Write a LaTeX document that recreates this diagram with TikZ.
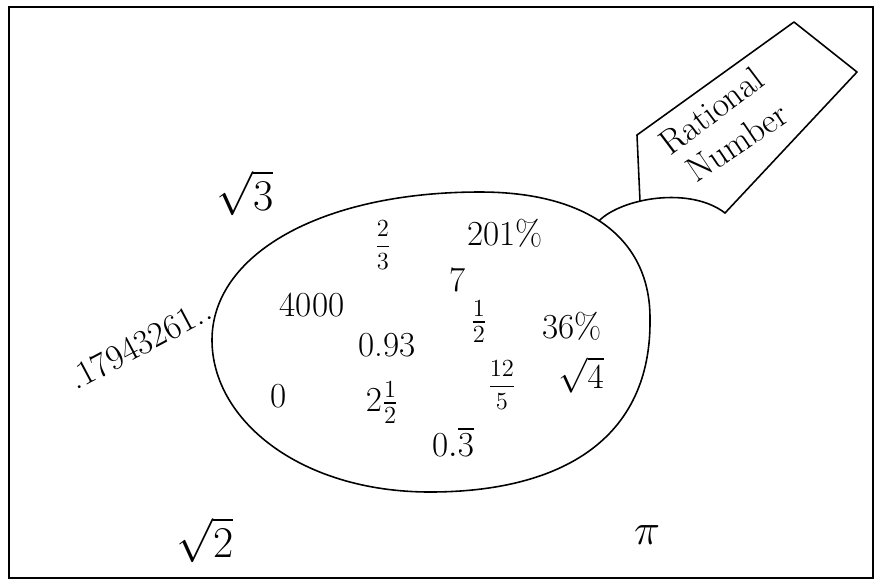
\RequirePackage{fix-cm}
\documentclass[tikz,border=0pt]{standalone}
\usepackage{amsmath}
\usetikzlibrary{positioning}

\begin{document}
\begin{tikzpicture}[
    x=0.02cm, y=-0.02cm,
    pen/.style={line width=0.9pt, line join=round, line cap=round},
    num/.style={font=\fontsize{20}{24}\selectfont, inner sep=0pt},
    fracnum/.style={font=\fontsize{14}{17}\selectfont, inner sep=0pt},
    bignum/.style={font=\fontsize{25}{30}\selectfont, inner sep=0pt},
    bannertext/.style={font=\fontsize{20}{24}\selectfont, inner sep=0pt},
]
\useasboundingbox (0,0) rectangle (880,583);

% Frame
\draw[line width=1.2pt] (9,7) rectangle (873,578);

% Oval of rational numbers
\draw[pen] (212,340) .. controls (212,255) and (320,192) .. (480,192)
    .. controls (590,192) and (650,240) .. coordinate[pos=0.46] (ovaltop) (650,318)
    .. controls (652,440) and (560,492) .. (430,492)
    .. controls (300,492) and (212,420) .. cycle;

% Banner
\coordinate (bl) at (640,201);
\coordinate (tl) at (637,135);
\coordinate (tr) at (794,22);
\coordinate (rr) at (857,72);
\coordinate (br) at (725,213);
\draw[pen] (bl) -- (tl) -- (tr) -- (rr) -- (br);
\draw[pen] (ovaltop) .. controls (622,198) and (690,186) .. (br);
\node[bannertext, rotate=37] (ratword) at (711,111) {Rational};
\node[bannertext, rotate=34] (numword) at (737,142) {Number};

% Inside the oval
\node[fracnum] (twothirds) at (383,245) {$\dfrac{2}{3}$};
\node[num] (pct201) at (505,233) {201\%};
\node[num] (seven) at (458,280) {7};
\node[num] (fourk) at (312,305) {4000};
\node[num] (half) at (479,322) {$\tfrac{1}{2}$};
\node[num] (pct36) at (572,326) {36\%};
\node[num] (dec93) at (387,345) {0.93};
\node[fracnum] (twelvefifths) at (502,385) {$\dfrac{12}{5}$};
\node[num] (root4) at (581,375) {$\sqrt{4}$};
\node[num] (zero) at (279,396) {0};
\node[num] (mixed) at (382,403) {$2\frac{1}{2}$};
\node[num] (repeat) at (453,442) {$0.\overline{3}$};

% Outside the oval
\node[bignum] (root3) at (245,193) {$\sqrt{3}$};
\node[num, rotate=28] (irr) at (140,344) {.17943261..};
\node[bignum] (root2) at (205,540) {$\sqrt{2}$};
\node[bignum] (pi) at (647,535) {$\pi$};

\end{tikzpicture}
\end{document}
